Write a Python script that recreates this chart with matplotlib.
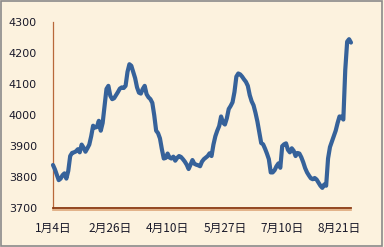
import matplotlib
matplotlib.use("Agg")
import matplotlib.pyplot as plt
from matplotlib.patches import Rectangle
from matplotlib.lines import Line2D

values = [
    3839, 3825, 3808, 3790, 3795, 3806, 3812, 3795, 3820, 3868,
    3878, 3880, 3883, 3890, 3880, 3905, 3895, 3882, 3893, 3905,
    3932, 3966, 3960, 3962, 3982, 3950, 3975, 4030, 4085, 4095,
    4063, 4052, 4055, 4065, 4075, 4086, 4090, 4088, 4095, 4140,
    4165, 4160, 4140, 4120, 4090, 4073, 4070, 4085, 4095, 4068,
    4058, 4052, 4040, 4000, 3950, 3942, 3925, 3890, 3860, 3862,
    3876, 3863, 3860, 3866, 3853, 3862, 3868, 3865, 3858, 3850,
    3840, 3826, 3840, 3855, 3843, 3840, 3838, 3835, 3850, 3858,
    3863, 3868, 3877, 3868, 3905, 3932, 3950, 3965, 3996, 3976,
    3970, 3990, 4020, 4030, 4042, 4075, 4125, 4135, 4132, 4125,
    4116, 4108, 4095, 4065, 4045, 4032, 4008, 3980, 3945, 3910,
    3906, 3892, 3876, 3858, 3815, 3815, 3822, 3835, 3844, 3830,
    3900, 3906, 3909, 3888, 3880, 3893, 3885, 3868, 3878, 3876,
    3864, 3848, 3829, 3815, 3805, 3796, 3793, 3797, 3792, 3782,
    3772, 3765, 3776, 3772, 3860, 3897, 3915, 3932, 3950, 3975,
    3996, 3995, 3986, 4146, 4238, 4246, 4235,
]
tick_labels = ["1月4日", "2月26日", "4月10日", "5月27日", "7月10日", "8月21日"]
tick_step = 30
y_ticks = [3700, 3800, 3900, 4000, 4100, 4200, 4300]

bg = "#FCF2DE"
fig = plt.figure(figsize=(3.84, 2.47), dpi=100, facecolor=bg)
fig.patches.append(Rectangle((0.003, 0.006), 0.991, 0.988, transform=fig.transFigure,
                             fill=False, edgecolor="#8a8a8a", linewidth=1.2))
L, B, W, H = 0.138, 0.158, 0.776, 0.751
ax = fig.add_axes([L, B, W, H])
ax.set_facecolor("none")

x = list(range(len(values)))
ax.plot(x, values, color="#36629A", linewidth=3.0, solid_joinstyle="round",
        solid_capstyle="round", zorder=3, clip_on=False)

ax.set_xlim(0, len(values) - 1)
ax.set_ylim(3700, 4300)
ax.set_yticks(y_ticks)
ax.set_yticklabels([str(v) for v in y_ticks], fontsize=8, color="#1a1a2a",
                   family=["DejaVu Sans"])
ax.set_xticks(list(range(0, len(values), tick_step))[:len(tick_labels)])
ax.set_xticklabels(tick_labels, fontsize=8.5, color="#1a1a2a",
                   family=["Noto Sans CJK SC", "DejaVu Sans"])
ax.tick_params(axis="both", length=0)
ax.tick_params(axis="y", pad=11.5)
ax.tick_params(axis="x", pad=10)

for s in ["top", "right"]:
    ax.spines[s].set_visible(False)
ax.spines["left"].set_color("#B8683A")
ax.spines["left"].set_linewidth(0.9)
ax.spines["bottom"].set_color("#8B3A12")
ax.spines["bottom"].set_linewidth(1.3)
# light shadow under bottom axis
fig.add_artist(Line2D([L, L + W], [B - 0.007, B - 0.007], color="#DDA77A",
                      linewidth=1.2, transform=fig.transFigure, zorder=1))

fig.savefig("out.png", dpi=100, facecolor=bg)
